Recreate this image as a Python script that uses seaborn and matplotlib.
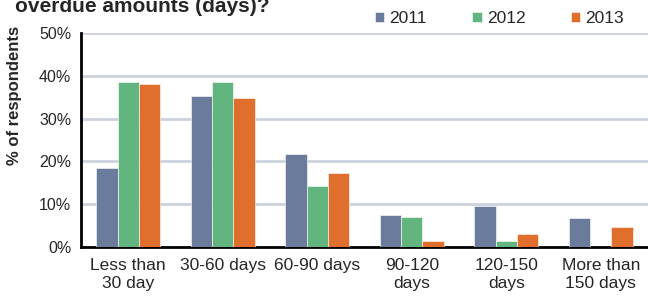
import pandas as pd
import numpy as np
import matplotlib.pyplot as plt
import seaborn as sns
from matplotlib.ticker import PercentFormatter, FixedLocator

# Data
categories = ['Less than\n30 day', '30-60 days', '60-90 days', '90-120\ndays', '120-150\ndays', 'More than\n150 days']
years = ['2011', '2012', '2013']
vals_2011 = [18.5, 35.3, 21.7, 7.6, 9.7, 6.7]
vals_2012 = [38.6, 38.6, 14.2, 7.0, 1.3, 0.0]
vals_2013 = [38.1, 34.9, 17.4, 1.4, 3.0, 4.6]
colors = ['#6B7B9B', '#62B57E', '#E06E2D']

df = pd.DataFrame({
    'cat': categories * 3,
    'year': [y for y in years for _ in categories],
    'val': vals_2011 + vals_2012 + vals_2013,
})

sns.set_style('white')
plt.rcParams['font.family'] = ['Liberation Sans', 'DejaVu Sans']

fig = plt.figure(figsize=(6.48, 2.98), dpi=100)
ax = fig.add_axes([0.125, 0.171, 0.875, 0.718])

sns.barplot(data=df, x='cat', y='val', hue='year', palette=colors, width=0.68,
            saturation=1, edgecolor='white', linewidth=0.4, ax=ax, zorder=3)

ax.set_ylim(0, 50)
ax.set_xlim(-0.5, len(categories) - 0.5)
ax.set_yticks([0, 10, 20, 30, 40, 50])
ax.yaxis.set_major_formatter(PercentFormatter(decimals=0))
ax.yaxis.grid(True, color='#CDD1DE', linewidth=2, zorder=0)
ax.set_axisbelow(True)

for s in ['top', 'right']:
    ax.spines[s].set_visible(False)
for s in ['left', 'bottom']:
    ax.spines[s].set_color('black')
    ax.spines[s].set_linewidth(2)

ax.tick_params(axis='x', which='major', length=0, labelsize=12.5, pad=8)
ax.xaxis.set_minor_locator(FixedLocator(np.arange(-0.5, len(categories), 1)))
ax.tick_params(axis='x', which='minor', length=5, width=2, direction='out', color='black')
ax.tick_params(axis='y', length=5, width=2, direction='out', color='black', labelsize=11.5, pad=2)

ax.set_xlabel('')
ax.set_ylabel('')
fig.text(0.022, 0.68, '% of respondents', rotation=90, ha='center', va='center',
         fontsize=12, fontweight='bold')
fig.text(0.023, 0.96, 'overdue amounts (days)?', ha='left', va='baseline',
         fontsize=15, fontweight='bold')

ax.legend(loc='lower right', bbox_to_anchor=(0.97, 1.0), ncol=3, frameon=False,
          fontsize=12.5, handlelength=0.55, handleheight=0.55, handletextpad=0.3,
          columnspacing=2.6, borderaxespad=0)

fig.savefig('out.png', dpi=100)
